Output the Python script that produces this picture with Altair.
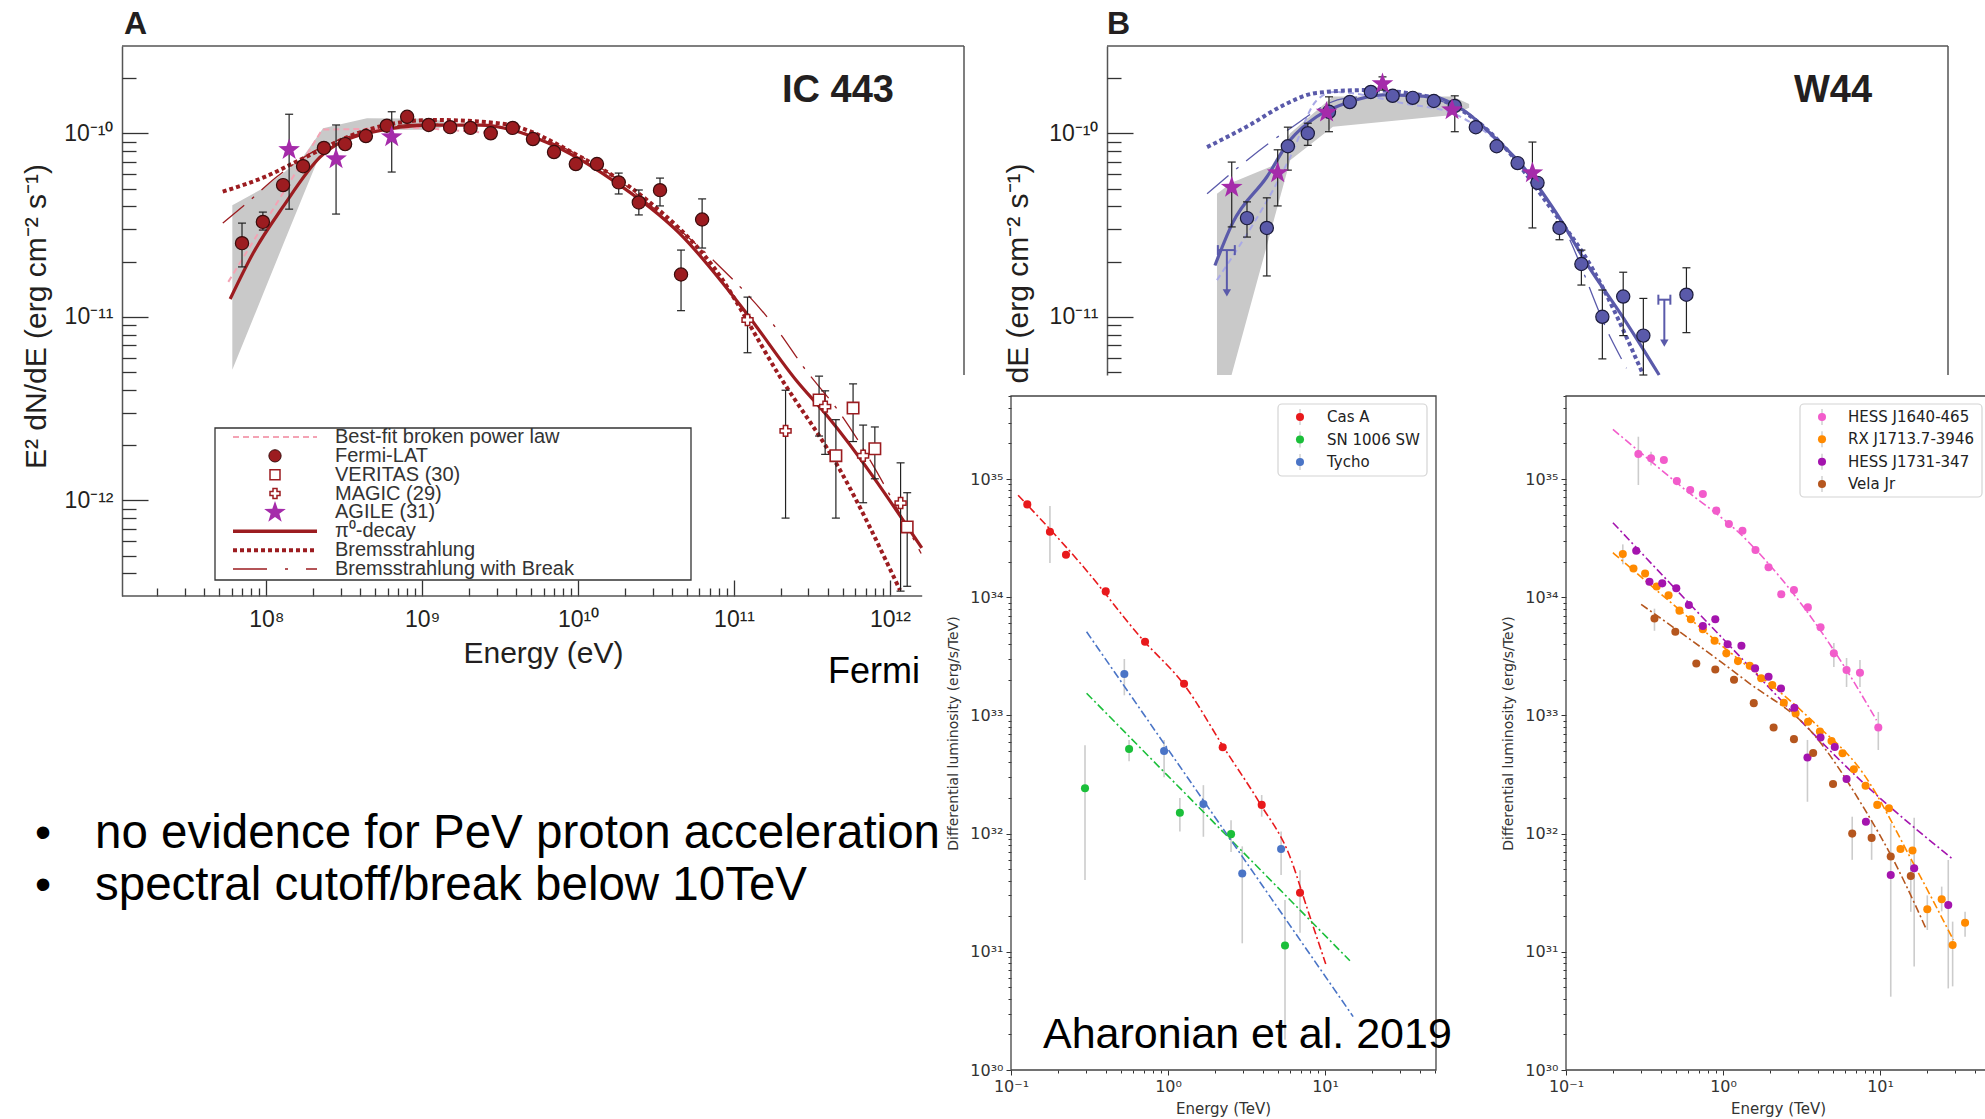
import altair as alt
import pandas as pd

W, H = 1985, 1119
ARIAL = "Liberation Sans, Arial, Helvetica, sans-serif"
MPL = "DejaVu Sans, Verdana, sans-serif"
INK = "#231f20"
STAR = "M0,-1L0.235,-0.324L0.951,-0.309L0.38,0.124L0.588,0.809L0,0.4L-0.588,0.809L-0.38,0.124L-0.951,-0.309L-0.235,-0.324Z"

# ======================= Panel A : IC 443 =======================
A_X_DOMAIN = [1.186e7, 2.985e12]
A_Y_DOMAIN = [3.01e-13, 2.99e-10]
A_X_RANGE = [122, 964]
A_Y_RANGE = [596, 46]
A_X_SHOWN = 1.61e12      # part right of this is covered by the inset figure
A_Y_SHOWN = 4.82e-12
A_X_MAJOR = [1e8, 1e9, 1e10, 1e11, 1e12]
A_X_EXP = [8, 9, 10, 11, 12]
A_X_LABELS = ["10⁸", "10⁹", "10¹⁰", "10¹¹", "10¹²"]
A_X_MINOR = [m * 10.0 ** e for e in range(7, 12) for m in range(2, 10) if m * 10.0 ** e > A_X_DOMAIN[0]]
A_Y_MAJOR = [1e-12, 1e-11, 1e-10]
A_Y_EXP = [-12, -11, -10]
A_Y_LABELS = ["10⁻¹²", "10⁻¹¹", "10⁻¹⁰"]
A_Y_MINOR = [m * 10.0 ** e for e in range(-13, -9) for m in range(2, 10)
             if A_Y_DOMAIN[0] * 1.2 < m * 10.0 ** e < A_Y_DOMAIN[1]]

A_LAT_E = [6.98e7, 9.5e7, 1.28e8, 1.72e8, 2.34e8, 3.2e8, 4.35e8, 5.93e8, 8.0e8, 1.10e9, 1.51e9, 2.04e9,
           2.75e9, 3.8e9, 5.13e9, 7.0e9, 9.66e9, 1.32e10, 1.82e10, 2.45e10, 3.35e10, 4.57e10, 6.24e10]
A_LAT_F = [2.52e-11, 3.29e-11, 5.22e-11, 6.62e-11, 8.32e-11, 8.73e-11, 9.66e-11, 1.10e-10, 1.23e-10, 1.11e-10,
           1.08e-10, 1.07e-10, 1.0e-10, 1.07e-10, 9.3e-11, 7.9e-11, 6.8e-11, 6.8e-11, 5.4e-11, 4.2e-11, 4.9e-11,
           1.70e-11, 3.39e-11]
A_LAT_ERR_E = [6.98e7, 9.5e7, 1.82e10, 2.45e10, 3.35e10, 4.57e10, 6.24e10]
A_LAT_ERR_LO = [1.87e-11, 2.97e-11, 4.67e-11, 3.59e-11, 4.02e-11, 1.08e-11, 2.37e-11]
A_LAT_ERR_HI = [3.24e-11, 3.72e-11, 6.07e-11, 4.91e-11, 5.7e-11, 2.31e-11, 4.39e-11]

A_AGILE_E = [1.40e8, 2.80e8, 6.37e8]
A_AGILE_F = [8.13e-11, 7.24e-11, 9.55e-11]
A_AGILE_LO = [3.86e-11, 3.63e-11, 6.15e-11]
A_AGILE_HI = [1.27e-10, 1.11e-10, 1.31e-10]

A_VERITAS_E = [3.51e11, 4.5e11, 5.8e11, 8.0e11, 1.29e12]
A_VERITAS_F = [3.52e-12, 1.75e-12, 3.18e-12, 1.91e-12, 7.16e-13]
A_VERITAS_LO = [2.24e-12, 8.0e-13, 2.09e-12, 1.31e-12, 3.4e-13]
A_VERITAS_HI = [4.75e-12, 2.75e-12, 4.31e-12, 2.51e-12, 1.1e-12]

A_MAGIC_E = [1.22e11, 2.14e11, 3.84e11, 6.73e11, 1.17e12]
A_MAGIC_F = [9.6e-12, 2.39e-12, 3.24e-12, 1.75e-12, 9.66e-13]
A_MAGIC_LO = [6.37e-12, 8.0e-13, 1.78e-12, 9.7e-13, 3.2e-13]
A_MAGIC_HI = [1.28e-11, 3.98e-12, 3.95e-12, 2.57e-12, 1.6e-12]

A_PI0_E = [5.86e7, 8.22e7, 1.28e8, 2.21e8, 4.42e8, 1.175e9, 2.34e9, 6.31e9, 1.66e10, 4.47e10, 1.20e11,
           2.51e11, 3.94e11, 1.60e12]
A_PI0_F = [1.25e-11, 2.22e-11, 3.98e-11, 7.41e-11, 1.0e-10, 1.109e-10, 1.109e-10, 8.91e-11, 5.56e-11, 2.85e-11,
           1.047e-11, 4.5e-12, 2.9e-12, 5.5e-13]
A_BREMS_E = [5.25e7, 1.007e8, 1.64e8, 4.41e8, 1.175e9, 3.16e9, 1.03e10, 2.75e10, 7.36e10, 1.97e11, 4.79e11, 1.16e12]
A_BREMS_F = [4.81e-11, 5.85e-11, 7.16e-11, 1.042e-10, 1.183e-10, 1.132e-10, 7.45e-11, 4.34e-11, 1.875e-11,
             4.72e-12, 1.46e-12, 3.24e-13]
A_BREAK_E = [5.25e7, 7.67e7, 1.167e8, 2.0e8, 3.98e8, 1.0e9, 2.51e9, 6.31e9, 1.585e10, 3.35e10, 7.33e10,
             1.97e11, 2.77e11, 4.79e11, 1.585e12]
A_BREAK_F = [3.24e-11, 4.24e-11, 5.79e-11, 7.94e-11, 1.0e-10, 1.122e-10, 1.096e-10, 9.12e-11, 6.03e-11,
             3.66e-11, 2.04e-11, 8.13e-12, 5.37e-12, 2.98e-12, 5.13e-13]
A_BPL_E = [5.7e7, 2.28e8, 1.0e9, 2.82e9]
A_BPL_F = [1.55e-11, 1.047e-10, 1.07e-10, 1.0e-10]
A_BAND_E = [6.05e7, 9.53e7, 1.28e8, 1.72e8, 2.31e8, 4.42e8, 1.175e9, 1.41e9]
A_BAND_LO = [5.14e-12, 1.33e-11, 2.47e-11, 4.57e-11, 8.41e-11, 1.042e-10, 1.047e-10, 1.096e-10]
A_BAND_HI = [4.06e-11, 5.01e-11, 6.05e-11, 7.46e-11, 1.064e-10, 1.208e-10, 1.202e-10, 1.148e-10]

LEG_A = ["Best-fit broken power law", "Fermi-LAT", "VERITAS (30)", "MAGIC (29)", "AGILE (31)",
         "π⁰-decay", "Bremsstrahlung", "Bremsstrahlung with Break"]

# ======================= Panel B : W44 =======================
B_X_DOMAIN = [1.186e7, 2.985e12]
B_Y_DOMAIN = [4.82e-12, 2.99e-10]     # lower part hidden behind the inset figure
B_X_RANGE = [1107, 1948]
B_Y_RANGE = [375, 46]
B_Y_MAJOR = [1e-11, 1e-10]
B_Y_EXP = [-11, -10]
B_Y_LABELS = ["10⁻¹¹", "10⁻¹⁰"]
B_Y_MINOR = [m * 10.0 ** e for e in range(-12, -9) for m in range(2, 10)
             if B_Y_DOMAIN[0] < m * 10.0 ** e < B_Y_DOMAIN[1]]

B_LAT_E = [9.4e7, 1.26e8, 1.72e8, 2.31e8, 3.16e8, 4.3e8, 5.87e8, 8.1e8, 1.09e9, 1.49e9, 2.03e9, 2.77e9,
           3.77e9, 5.14e9, 6.9e9, 9.55e9, 1.32e10, 1.8e10, 2.45e10, 3.3e10, 6.24e10]
B_LAT_F = [3.45e-11, 3.05e-11, 8.5e-11, 1.0e-10, 1.31e-10, 1.48e-10, 1.68e-10, 1.6e-10, 1.56e-10, 1.5e-10,
           1.41e-10, 1.08e-10, 8.5e-11, 6.88e-11, 5.37e-11, 3.05e-11, 1.94e-11, 1.0e-11, 1.29e-11, 7.9e-12,
           1.32e-11]
B_LAT_ERR_E = [9.4e7, 1.26e8, 1.72e8, 2.31e8, 3.16e8, 2.03e9, 9.55e9, 1.32e10, 1.8e10, 2.45e10, 3.3e10, 6.24e10]
B_LAT_ERR_LO = [2.72e-11, 1.67e-11, 6.3e-11, 8.6e-11, 1.02e-10, 1.02e-10, 2.63e-11, 1.49e-11, 5.9e-12,
                7.9e-12, 4.82e-12, 8.2e-12]
B_LAT_ERR_HI = [4.23e-11, 4.45e-11, 1.08e-10, 1.135e-10, 1.58e-10, 1.6e-10, 3.3e-11, 2.31e-11, 1.4e-11,
                1.75e-11, 1.26e-11, 1.85e-11]
B_AGILE_E = [7.5e7, 1.48e8, 3.05e8, 6.97e8, 1.95e9, 6.4e9]
B_AGILE_F = [5.07e-11, 6.08e-11, 1.3e-10, 1.86e-10, 1.34e-10, 6.08e-11]
B_AGILE_ERR_E = [7.5e7, 1.48e8, 6.97e8, 6.4e9]
B_AGILE_ERR_LO = [3.09e-11, 4.02e-11, 1.72e-10, 3.05e-11]
B_AGILE_ERR_HI = [6.97e-11, 8.13e-11, 2.03e-10, 8.96e-11]
B_UL_E = [6.98e7, 4.5e10]
B_UL_F = [2.31e-11, 1.24e-11]
B_UL_END = [1.35e-11, 7.2e-12]
B_UL_ELO = [6.11e7, 4.12e10]
B_UL_EHI = [7.85e7, 4.92e10]

B_PI0_E = [5.85e7, 7.59e7, 1.26e8, 1.78e8, 2.63e8, 4.27e8, 7.0e8, 1.46e9, 2.40e9, 3.80e9, 5.13e9, 9.12e9,
           1.48e10, 2.43e10, 4.17e10]
B_PI0_F = [1.905e-11, 3.24e-11, 5.78e-11, 9.18e-11, 1.23e-10, 1.48e-10, 1.62e-10, 1.585e-10, 1.306e-10,
           9.18e-11, 7.14e-11, 3.67e-11, 1.86e-11, 1.0e-11, 4.82e-12]
B_BREMS_E = [5.21e7, 1.0e8, 1.585e8, 2.63e8, 5.5e8, 1.0e9, 2.0e9, 3.98e9, 7.94e9, 1.585e10, 3.27e10]
B_BREMS_F = [8.41e-11, 1.122e-10, 1.413e-10, 1.66e-10, 1.72e-10, 1.66e-10, 1.413e-10, 8.91e-11, 4.17e-11,
             1.78e-11, 4.9e-12]
B_BREAK_E = [5.21e7, 1.72e8, 3.98e8, 1.0e9, 2.51e9, 5.01e9, 1.0e10, 2.04e10, 2.57e10]
B_BREAK_F = [4.68e-11, 1.042e-10, 1.55e-10, 1.62e-10, 1.26e-10, 7.08e-11, 3.16e-11, 7.64e-12, 5.25e-12]
B_BPL_E = [6.03e7, 1.78e8, 2.63e8, 3.39e8, 1.0e9, 1.95e9, 3.98e9]
B_BPL_F = [1.585e-11, 7.41e-11, 1.51e-10, 1.68e-10, 1.445e-10, 1.29e-10, 8.91e-11]
B_BAND_E = [6.03e7, 7.48e7, 1.35e8, 1.78e8, 3.35e8, 1.97e9, 2.51e9]
B_BAND_LO = [4.82e-12, 4.82e-12, 3.02e-11, 7.14e-11, 1.086e-10, 1.26e-10, 1.38e-10]
B_BAND_HI = [4.68e-11, 5.37e-11, 6.61e-11, 1.0e-10, 1.585e-10, 1.585e-10, 1.445e-10]

# ======================= Panels C, D : Aharonian et al. 2019 =======================
L_X_DOMAIN = [0.1, 50.9]
L_Y_DOMAIN = [1e30, 5.04e35]
C_X_RANGE = [1011, 1436]
D_X_RANGE = [1566, 1991]
L_Y_RANGE = [1070, 396]
L_X_MAJOR = [0.1, 1, 10]
L_X_EXP = [-1, 0, 1]
L_X_LABELS = ["10⁻¹", "10⁰", "10¹"]
L_X_MINOR = [m * 10.0 ** e for e in (-1, 0, 1) for m in range(2, 10) if m * 10.0 ** e < L_X_DOMAIN[1]]
L_Y_MAJOR = [1e30, 1e31, 1e32, 1e33, 1e34, 1e35]
L_Y_EXP = [30, 31, 32, 33, 34, 35]
L_Y_LABELS = ["10³⁰", "10³¹", "10³²", "10³³", "10³⁴", "10³⁵"]
L_Y_MINOR = [m * 10.0 ** e for e in range(30, 36) for m in range(2, 10) if m * 10.0 ** e < L_Y_DOMAIN[1]]

C_NAMES = ["Cas A", "SN 1006 SW", "Tycho"]
C_COLORS = ["#e8191c", "#1bbf3a", "#4a74c6"]
C_CAS_E = [0.127, 0.177, 0.224, 0.401, 0.714, 1.265, 2.23, 3.95, 6.93]
C_CAS_L = [6.1e34, 3.58e34, 2.29e34, 1.12e34, 4.2e33, 1.85e33, 5.37e32, 1.75e32, 3.16e31]
C_CAS_ERR_E = [0.177, 3.95, 6.93]
C_CAS_ERR_LO = [1.95e34, 1.39e32, 1.45e31]
C_CAS_ERR_HI = [5.9e34, 2.12e32, 4.9e31]
C_CAS_FIT_E = [0.111, 0.289, 0.664, 1.315, 2.25, 3.85, 5.98, 7.64, 10.1]
C_CAS_FIT_L = [7.3e34, 1.81e34, 4.63e33, 1.70e33, 5.43e32, 1.80e32, 6.38e31, 2.4e31, 7.9e30]
C_SN_E = [0.296, 0.565, 1.19, 2.52, 5.56]
C_SN_L = [2.42e32, 5.2e32, 1.5e32, 9.9e31, 1.13e31]
C_SN_LO = [4.05e31, 4.1e32, 1.04e32, 7.0e31, 1.8e30]
C_SN_HI = [5.6e32, 6.2e32, 2.0e32, 1.3e32, 2.74e31]
C_SN_FIT_E = [0.303, 14.4]
C_SN_FIT_L = [1.54e33, 8.4e30]
C_TY_E = [0.527, 0.944, 1.68, 2.97, 5.25]
C_TY_L = [2.24e33, 5.0e32, 1.78e32, 4.6e31, 7.4e31]
C_TY_LO = [1.48e33, 3.0e32, 9.4e31, 1.18e31, 4.46e31]
C_TY_HI = [3.0e33, 6.2e32, 2.57e32, 7.8e31, 1.04e32]
C_TY_FIT_E = [0.303, 15.1]
C_TY_FIT_L = [5.1e33, 2.83e30]

D_NAMES = ["HESS J1640-465", "RX J1713.7-3946", "HESS J1731-347", "Vela Jr"]
D_COLORS = ["#f25ccb", "#ff8a00", "#a414ae", "#b5561e"]
D_PK_E = [0.289, 0.348, 0.42, 0.508, 0.618, 0.744, 0.906, 1.09, 1.33, 1.61, 1.95, 2.35, 2.83, 3.47, 4.18,
          5.08, 6.12, 7.45, 9.75]
D_PK_L = [1.63e35, 1.5e35, 1.45e35, 9.6e34, 8.07e34, 7.47e34, 5.4e34, 4.16e34, 3.65e34, 2.51e34, 1.79e34,
          1.06e34, 1.15e34, 8.2e33, 5.57e33, 3.35e33, 2.42e33, 2.3e33, 7.9e32]
D_PK_ERR_E = [0.289, 0.348, 5.08, 6.12, 7.45, 9.75]
D_PK_ERR_LO = [8.9e34, 1.3e35, 2.57e33, 1.74e33, 1.74e33, 5.1e32]
D_PK_ERR_HI = [2.28e35, 1.7e35, 4.09e33, 3.06e33, 2.94e33, 1.07e33]
D_PK_FIT_E = [0.199, 0.528, 1.41, 3.75, 6.12, 9.5]
D_PK_FIT_L = [2.63e35, 8.9e34, 3.05e34, 6.4e33, 2.42e33, 9.1e32]
D_OR_E = [0.23, 0.269, 0.319, 0.378, 0.45, 0.528, 0.624, 0.744, 0.884, 1.05, 1.245, 1.48, 1.75, 2.06, 2.44,
          2.9, 3.48, 4.14, 4.91, 5.77, 6.81, 8.09, 9.6, 11.4, 13.5, 16.1, 20.0, 24.7, 29.0, 34.8]
D_OR_L = [2.32e34, 1.75e34, 1.59e34, 1.23e34, 1.04e34, 7.7e33, 6.5e33, 5.35e33, 4.29e33, 3.35e33, 2.88e33,
          2.63e33, 2.06e33, 1.81e33, 1.28e33, 1.04e33, 8.85e32, 7.3e32, 6.07e32, 4.78e32, 3.5e32, 2.54e32,
          1.75e32, 1.64e32, 7.4e31, 7.2e31, 2.29e31, 2.78e31, 1.14e31, 1.76e31]
D_OR_ERR_E = [0.23, 20.0, 24.7, 29.0, 34.8]
D_OR_ERR_LO = [1.9e34, 1.53e31, 2.2e31, 5.1e30, 1.34e31]
D_OR_ERR_HI = [2.8e34, 3.0e31, 3.56e31, 1.8e31, 2.18e31]
D_OR_FIT_E = [0.199, 0.863, 3.75, 7.8, 16.3, 29.3]
D_OR_FIT_L = [2.38e34, 4.49e33, 8.85e32, 3.24e32, 5.6e31, 1.26e31]
D_PU_E = [0.28, 0.34, 0.41, 0.504, 0.606, 0.744, 0.893, 1.07, 1.31, 1.6, 1.95, 2.34, 2.85, 3.45, 4.18, 5.15,
          6.12, 8.13, 11.7, 16.5, 27.2]
D_PU_L = [2.47e34, 1.35e34, 1.31e34, 1.19e34, 8.6e33, 5.7e33, 6.5e33, 4.0e33, 3.89e33, 2.5e33, 2.12e33,
          1.69e33, 1.16e33, 4.4e32, 6.5e32, 5.4e32, 2.9e32, 1.26e32, 4.47e31, 5.1e31, 2.49e31]
D_PU_ERR_E = [3.45, 11.7, 16.5, 27.2]
D_PU_ERR_LO = [1.86e32, 4.17e30, 7.5e30, 4.9e30]
D_PU_ERR_HI = [6.2e32, 1.22e32, 1.36e32, 5.98e31]
D_PU_FIT_E = [0.199, 0.863, 9.98, 29.0]
D_PU_FIT_L = [4.27e34, 5.46e33, 2.0e32, 6.1e31]
D_BR_E = [0.366, 0.497, 0.676, 0.893, 1.175, 1.57, 2.1, 2.83, 3.75, 5.02, 6.65, 8.84, 11.7, 15.7]
D_BR_L = [6.6e33, 5.1e33, 2.75e33, 2.45e33, 2.0e33, 1.27e33, 7.9e32, 6.3e32, 4.8e32, 2.63e32, 1.0e32,
          9.2e31, 6.4e31, 4.38e31]
D_BR_ERR_E = [0.366, 6.65, 8.84, 15.7]
D_BR_ERR_LO = [5.2e33, 6.0e31, 6.0e31, 2.18e31]
D_BR_ERR_HI = [8.0e33, 1.39e32, 1.3e32, 5.98e31]
D_BR_FIT_E = [0.301, 1.41, 3.75, 7.8, 12.8, 19.8]
D_BR_FIT_L = [8.7e33, 1.95e33, 7.0e32, 1.69e32, 5.25e31, 1.53e31]

# ======================= helpers =======================
def sup_expr(exps, labels):
    parts = [f"round(log(datum.value)/LN10) == {e} ? '{lab}'" for e, lab in zip(exps, labels)]
    return " : ".join(parts) + " : ''"


def logscale(dom, rng):
    return alt.Scale(type="log", domain=dom, range=rng, nice=False)


def xy(xs, ys, xf="x", yf="y"):
    return dict(x=alt.X(f"{xf}:Q", scale=xs, axis=None), y=alt.Y(f"{yf}:Q", scale=ys, axis=None))


def points(E, F, xs, ys, **mk):
    mk.setdefault("opacity", 1)
    return alt.Chart(pd.DataFrame({"x": E, "y": F})).mark_point(**mk).encode(**xy(xs, ys))


def curve(E, F, xs, ys, **mk):
    return alt.Chart(pd.DataFrame({"x": E, "y": F})).mark_line(**mk).encode(**xy(xs, ys))


def errbars(E, lo, hi, xs, ys, color, width=1.2, cap=0):
    base = alt.Chart(pd.DataFrame({"x": E, "lo": lo, "hi": hi}))
    out = [base.mark_rule(color=color, strokeWidth=width).encode(
        x=alt.X("x:Q", scale=xs, axis=None), y=alt.Y("lo:Q", scale=ys, axis=None), y2=alt.Y2("hi"))]
    if cap:
        for f in ("lo", "hi"):
            out.append(base.mark_tick(color=color, orient="horizontal", size=cap, thickness=width, opacity=1).encode(
                x=alt.X("x:Q", scale=xs, axis=None), y=alt.Y(f"{f}:Q", scale=ys, axis=None)))
    return out


def band(E, lo, hi, xs, ys, color):
    return alt.Chart(pd.DataFrame({"x": E, "lo": lo, "hi": hi})).mark_area(
        orient="vertical", color=color, opacity=1).encode(
        x=alt.X("x:Q", scale=xs, axis=None), y=alt.Y("lo:Q", scale=ys, axis=None), y2=alt.Y2("hi"))


def tick_axis(orient, offset, values, size, color="#333333", width=1.3):
    return alt.Axis(orient=orient, offset=offset, values=values, labels=False, domain=False, ticks=True,
                    tickSize=size, tickColor=color, tickWidth=width, grid=False, title=None)


def carrier(xs, ys, xdom, ydom, xaxis, yaxis):
    d = pd.DataFrame({"x": [xdom[0]], "y": [ydom[0]]})
    return alt.Chart(d).mark_point(opacity=0).encode(
        x=alt.X("x:Q", scale=xs, axis=xaxis), y=alt.Y("y:Q", scale=ys, axis=yaxis))


def text(s, x, y, size, align="left", weight="normal", font=ARIAL, color="black", baseline="alphabetic"):
    return alt.Chart(pd.DataFrame({"t": [s]})).mark_text(
        align=align, baseline=baseline, fontSize=size, fontWeight=weight, font=font, color=color).encode(
        x=alt.value(x), y=alt.value(y), text="t:N")


RED = "#9c1c20"
RED_EDGE = "#3a0d0d"
PINK = "#f4a3b4"
AGILE = "#a52baa"
BLUE = "#5a5aaa"
BLUE_EDGE = "#1c1c3c"
LAV = "#a9a9e6"
GREY = "#c9c9c9"
ERR = "#222222"
STAR_SIZE = 520

# ======================= Panel A =======================
AXS = logscale(A_X_DOMAIN, A_X_RANGE)
AYS = logscale(A_Y_DOMAIN, A_Y_RANGE)

a_y_lab = alt.Axis(orient="left", offset=-A_X_RANGE[0], values=A_Y_MAJOR, labelExpr=sup_expr(A_Y_EXP, A_Y_LABELS),
                   ticks=False, tickSize=0, domain=True, domainColor="#555555", domainWidth=1.5, grid=False,
                   labelFlush=False, labelFont=ARIAL, labelFontSize=23, labelColor=INK, labelPadding=9,
                   title="E² dN/dE (erg cm⁻² s⁻¹)", titleFont=ARIAL, titleFontSize=30, titleFontWeight="normal",
                   titleColor=INK, titleAngle=270, titleX=-77, titleY=316, titleAlign="center",
                   titleBaseline="alphabetic")
a_x_lab = alt.Axis(orient="bottom", offset=-(H - A_Y_RANGE[0]), values=A_X_MAJOR,
                   labelExpr=sup_expr(A_X_EXP, A_X_LABELS), ticks=False, tickSize=0, domain=False, grid=False,
                   labelFlush=False, labelFont=ARIAL, labelFontSize=23, labelColor=INK, labelPadding=12,
                   title="Energy (eV)", titleFont=ARIAL, titleFontSize=30, titleFontWeight="normal",
                   titleColor=INK, titleX=543, titleY=66, titleAlign="center", titleBaseline="alphabetic")

A_FRAME = pd.DataFrame({
    "x": [A_X_DOMAIN[0], A_X_DOMAIN[1], A_X_DOMAIN[0]],
    "x2": [A_X_DOMAIN[1], A_X_DOMAIN[1], A_X_SHOWN],
    "y": [A_Y_DOMAIN[1], A_Y_DOMAIN[1], A_Y_DOMAIN[0]],
    "y2": [A_Y_DOMAIN[1], A_Y_SHOWN, A_Y_DOMAIN[0]],
})
a_frame = alt.Chart(A_FRAME).mark_rule(color="#555555", strokeWidth=1.5).encode(
    x=alt.X("x:Q", scale=AXS, axis=None), x2=alt.X2("x2"),
    y=alt.Y("y:Q", scale=AYS, axis=None), y2=alt.Y2("y2"))

panelA = alt.layer(
    band(A_BAND_E, A_BAND_LO, A_BAND_HI, AXS, AYS, GREY),
    a_frame,
    carrier(AXS, AYS, A_X_DOMAIN, A_Y_DOMAIN, a_x_lab, a_y_lab),
    carrier(AXS, AYS, A_X_DOMAIN, A_Y_DOMAIN, tick_axis("top", -A_Y_RANGE[0], A_X_MAJOR, 16),
            tick_axis("right", -(W - A_X_RANGE[0]), A_Y_MAJOR, 26)),
    carrier(AXS, AYS, A_X_DOMAIN, A_Y_DOMAIN, tick_axis("top", -A_Y_RANGE[0], A_X_MINOR, 8),
            tick_axis("right", -(W - A_X_RANGE[0]), A_Y_MINOR, 14)),
    curve(A_BPL_E, A_BPL_F, AXS, AYS, color=PINK, strokeWidth=2, strokeDash=[6, 4]),
    curve(A_BREAK_E, A_BREAK_F, AXS, AYS, color=RED, strokeWidth=1.3, strokeDash=[28, 10, 3, 10],
          interpolate="monotone"),
    curve(A_BREMS_E, A_BREMS_F, AXS, AYS, color=RED, strokeWidth=4, strokeDash=[4, 3], interpolate="monotone"),
    curve(A_PI0_E, A_PI0_F, AXS, AYS, color=RED, strokeWidth=3.2, interpolate="monotone"),
    *errbars(A_LAT_ERR_E, A_LAT_ERR_LO, A_LAT_ERR_HI, AXS, AYS, ERR, cap=8),
    *errbars(A_AGILE_E, A_AGILE_LO, A_AGILE_HI, AXS, AYS, ERR, cap=8),
    *errbars(A_VERITAS_E, A_VERITAS_LO, A_VERITAS_HI, AXS, AYS, ERR, cap=8),
    *errbars(A_MAGIC_E, A_MAGIC_LO, A_MAGIC_HI, AXS, AYS, ERR, cap=8),
    points(A_LAT_E, A_LAT_F, AXS, AYS, shape="circle", size=175, filled=True, fill=RED, stroke=RED_EDGE,
           strokeWidth=1.2),
    points(A_VERITAS_E, A_VERITAS_F, AXS, AYS, shape="square", size=130, filled=True, fill="white", stroke=RED,
           strokeWidth=1.6),
    points(A_MAGIC_E, A_MAGIC_F, AXS, AYS, shape="cross", size=120, filled=True, fill="white", stroke=RED,
           strokeWidth=1.5),
    points(A_AGILE_E, A_AGILE_F, AXS, AYS, shape=STAR, size=STAR_SIZE, filled=True, fill=AGILE, strokeWidth=0),
).resolve_axis(x="independent", y="independent")

# legend of panel A
LY = alt.Scale(type="point", domain=LEG_A, range=[437, 569], padding=0)
leg_df = pd.DataFrame({"label": LEG_A})


def leg_y():
    return alt.Y("label:N", scale=LY, axis=None)


def leg_row(i):
    return alt.Chart(pd.DataFrame({"label": [LEG_A[i]]}))


legendA = alt.layer(
    alt.Chart(pd.DataFrame({"a": [0]})).mark_rect(fill="white", stroke="#333333", strokeWidth=1.3).encode(
        x=alt.value(215), x2=alt.value(691), y=alt.value(428), y2=alt.value(580)),
    leg_row(0).mark_rule(color=PINK, strokeWidth=2, strokeDash=[6, 4]).encode(
        x=alt.value(233), x2=alt.value(317), y=leg_y()),
    leg_row(1).mark_point(shape="circle", size=150, filled=True, fill=RED, stroke=RED_EDGE, strokeWidth=1,
                          opacity=1).encode(x=alt.value(275), y=leg_y()),
    leg_row(2).mark_point(shape="square", size=100, filled=True, fill="white", stroke=RED, strokeWidth=1.5,
                          opacity=1).encode(x=alt.value(275), y=leg_y()),
    leg_row(3).mark_point(shape="cross", size=100, filled=True, fill="white", stroke=RED, strokeWidth=1.5,
                          opacity=1).encode(x=alt.value(275), y=leg_y()),
    leg_row(4).mark_point(shape=STAR, size=STAR_SIZE, filled=True, fill=AGILE, strokeWidth=0, opacity=1).encode(
        x=alt.value(275), y=leg_y()),
    leg_row(5).mark_rule(color=RED, strokeWidth=3.5).encode(x=alt.value(233), x2=alt.value(317), y=leg_y()),
    leg_row(6).mark_rule(color=RED, strokeWidth=4, strokeDash=[4, 3]).encode(
        x=alt.value(233), x2=alt.value(317), y=leg_y()),
    leg_row(7).mark_rule(color=RED, strokeWidth=1.3, strokeDash=[34, 18, 3, 18]).encode(
        x=alt.value(233), x2=alt.value(317), y=leg_y()),
    alt.Chart(leg_df).mark_text(align="left", baseline="middle", font=ARIAL, fontSize=20, color="#333333").encode(
        x=alt.value(335), y=leg_y(), text="label:N"),
)

# ======================= Panel B =======================
BXS = logscale(B_X_DOMAIN, B_X_RANGE)
BYS = logscale(B_Y_DOMAIN, B_Y_RANGE)
b_y_lab = alt.Axis(orient="left", offset=-B_X_RANGE[0], values=B_Y_MAJOR, labelExpr=sup_expr(B_Y_EXP, B_Y_LABELS),
                   ticks=False, tickSize=0, domain=True, domainColor="#555555", domainWidth=1.5, grid=False,
                   labelFlush=False, labelFont=ARIAL, labelFontSize=23, labelColor=INK, labelPadding=9,
                   title="dE (erg cm⁻² s⁻¹)", titleFont=ARIAL, titleFontSize=30, titleFontWeight="normal",
                   titleColor=INK, titleAngle=270, titleX=-80, titleY=163, titleAlign="right",
                   titleBaseline="alphabetic")
B_FRAME = pd.DataFrame({
    "x": [B_X_DOMAIN[0], B_X_DOMAIN[1]],
    "x2": [B_X_DOMAIN[1], B_X_DOMAIN[1]],
    "y": [B_Y_DOMAIN[1], B_Y_DOMAIN[1]],
    "y2": [B_Y_DOMAIN[1], B_Y_DOMAIN[0]],
})
b_frame = alt.Chart(B_FRAME).mark_rule(color="#555555", strokeWidth=1.5).encode(
    x=alt.X("x:Q", scale=BXS, axis=None), x2=alt.X2("x2"),
    y=alt.Y("y:Q", scale=BYS, axis=None), y2=alt.Y2("y2"))
ul = alt.Chart(pd.DataFrame({"x": B_UL_E, "y": B_UL_F, "yend": B_UL_END, "xlo": B_UL_ELO, "xhi": B_UL_EHI}))

panelB = alt.layer(
    band(B_BAND_E, B_BAND_LO, B_BAND_HI, BXS, BYS, GREY),
    b_frame,
    carrier(BXS, BYS, B_X_DOMAIN, B_Y_DOMAIN, None, b_y_lab),
    carrier(BXS, BYS, B_X_DOMAIN, B_Y_DOMAIN, None, tick_axis("right", -(W - B_X_RANGE[0]), B_Y_MAJOR, 26)),
    carrier(BXS, BYS, B_X_DOMAIN, B_Y_DOMAIN, None, tick_axis("right", -(W - B_X_RANGE[0]), B_Y_MINOR, 14)),
    curve(B_BPL_E, B_BPL_F, BXS, BYS, color=LAV, strokeWidth=2, strokeDash=[6, 4], interpolate="monotone"),
    curve(B_BREAK_E, B_BREAK_F, BXS, BYS, color=BLUE, strokeWidth=1.3, strokeDash=[28, 10, 3, 10],
          interpolate="monotone"),
    curve(B_BREMS_E, B_BREMS_F, BXS, BYS, color=BLUE, strokeWidth=4, strokeDash=[4, 3], interpolate="monotone"),
    curve(B_PI0_E, B_PI0_F, BXS, BYS, color=BLUE, strokeWidth=3.2, interpolate="monotone"),
    *errbars(B_LAT_ERR_E, B_LAT_ERR_LO, B_LAT_ERR_HI, BXS, BYS, ERR, cap=8),
    *errbars(B_AGILE_ERR_E, B_AGILE_ERR_LO, B_AGILE_ERR_HI, BXS, BYS, ERR, cap=8),
    ul.mark_rule(color=BLUE, strokeWidth=2).encode(
        x=alt.X("xlo:Q", scale=BXS, axis=None), x2=alt.X2("xhi"), y=alt.Y("y:Q", scale=BYS, axis=None)),
    ul.mark_rule(color=BLUE, strokeWidth=2).encode(
        x=alt.X("x:Q", scale=BXS, axis=None), y=alt.Y("y:Q", scale=BYS, axis=None), y2=alt.Y2("yend")),
    ul.mark_tick(color=BLUE, orient="vertical", size=10, thickness=2, opacity=1).encode(
        x=alt.X("xlo:Q", scale=BXS, axis=None), y=alt.Y("y:Q", scale=BYS, axis=None)),
    ul.mark_tick(color=BLUE, orient="vertical", size=10, thickness=2, opacity=1).encode(
        x=alt.X("xhi:Q", scale=BXS, axis=None), y=alt.Y("y:Q", scale=BYS, axis=None)),
    ul.mark_point(shape="triangle-down", size=70, filled=True, color=BLUE, opacity=1).encode(
        x=alt.X("x:Q", scale=BXS, axis=None), y=alt.Y("yend:Q", scale=BYS, axis=None)),
    points(B_LAT_E, B_LAT_F, BXS, BYS, shape="circle", size=175, filled=True, fill=BLUE, stroke=BLUE_EDGE,
           strokeWidth=1.2),
    points(B_AGILE_E, B_AGILE_F, BXS, BYS, shape=STAR, size=STAR_SIZE, filled=True, fill=AGILE, strokeWidth=0),
).resolve_axis(x="independent", y="independent")


# ======================= Panels C and D =======================
def lum_panel(x_range, series, legend_names, legend_colors, legend_box, legend_rows, marker_x, text_x):
    xs = logscale(L_X_DOMAIN, x_range)
    ys = logscale(L_Y_DOMAIN, L_Y_RANGE)
    x0 = x_range[0]
    x_lab = alt.Axis(orient="bottom", offset=-(H - L_Y_RANGE[0]), values=L_X_MAJOR,
                     labelExpr=sup_expr(L_X_EXP, L_X_LABELS), ticks=True, tickSize=5, tickColor="#333333",
                     tickWidth=1, domain=False, grid=False, labelFlush=False, labelFont=MPL, labelFontSize=16,
                     labelColor="#333333", labelPadding=3, title="Energy (TeV)", titleFont=MPL, titleFontSize=15,
                     titleFontWeight="normal", titleColor="#333333", titleX=x0 + 212,
                     titleY=43, titleAlign="center", titleBaseline="alphabetic")
    y_lab = alt.Axis(orient="left", offset=-x0, values=L_Y_MAJOR, labelExpr=sup_expr(L_Y_EXP, L_Y_LABELS),
                     ticks=True, tickSize=5, tickColor="#333333", tickWidth=1, domain=False, grid=False,
                     labelFlush=False, labelFont=MPL, labelFontSize=16, labelColor="#333333", labelPadding=3,
                     title="Differential luminosity (erg/s/TeV)", titleFont=MPL, titleFontSize=14,
                     titleFontWeight="normal", titleColor="#333333", titleAngle=270, titleX=-54,
                     titleY=(L_Y_RANGE[0] + L_Y_RANGE[1]) / 2, titleAlign="center", titleBaseline="alphabetic")
    frame = alt.Chart(pd.DataFrame({"x": [L_X_DOMAIN[0]], "x2": [L_X_DOMAIN[1]], "y": [L_Y_DOMAIN[0]],
                                    "y2": [L_Y_DOMAIN[1]]})).mark_rect(
        fillOpacity=0, stroke="#444444", strokeWidth=1.3).encode(
        x=alt.X("x:Q", scale=xs, axis=None), x2=alt.X2("x2"), y=alt.Y("y:Q", scale=ys, axis=None),
        y2=alt.Y2("y2"))
    layers = [
        frame,
        carrier(xs, ys, L_X_DOMAIN, L_Y_DOMAIN, x_lab, y_lab),
        carrier(xs, ys, L_X_DOMAIN, L_Y_DOMAIN,
                tick_axis("bottom", -(H - L_Y_RANGE[0]), L_X_MINOR, 3, width=1),
                tick_axis("left", -x0, L_Y_MINOR, 3, width=1)),
    ]
    for s in series:
        layers += errbars(s["err_e"], s["err_lo"], s["err_hi"], xs, ys, "#cccccc", width=1.6)
    for s in series:
        layers.append(curve(s["fit_e"], s["fit_l"], xs, ys, color=s["color"], strokeWidth=1.6,
                            strokeDash=[8, 3, 2, 3], interpolate="monotone"))
    for s in series:
        layers.append(points(s["e"], s["l"], xs, ys, shape="circle", size=65, filled=True, color=s["color"],
                             strokeWidth=0))
    panel = alt.layer(*layers).resolve_axis(x="independent", y="independent")

    ly = alt.Scale(type="point", domain=legend_names, range=legend_rows, padding=0)
    cs = alt.Scale(domain=legend_names, range=legend_colors)
    ldf = pd.DataFrame({"name": legend_names})
    bx0, bx1, by0, by1 = legend_box
    legend = alt.layer(
        alt.Chart(pd.DataFrame({"a": [0]})).mark_rect(fill="white", stroke="#d4d4d4", strokeWidth=1.2,
                                                      cornerRadius=4).encode(
            x=alt.value(bx0), x2=alt.value(bx1), y=alt.value(by0), y2=alt.value(by1)),
        alt.Chart(ldf).mark_tick(orient="vertical", size=16, thickness=1.5, color="#d0d0d0", opacity=1).encode(
            x=alt.value(marker_x), y=alt.Y("name:N", scale=ly, axis=None)),
        alt.Chart(ldf).mark_point(shape="circle", size=65, filled=True, opacity=1).encode(
            x=alt.value(marker_x), y=alt.Y("name:N", scale=ly, axis=None),
            color=alt.Color("name:N", scale=cs, legend=None)),
        alt.Chart(ldf).mark_text(align="left", baseline="middle", font=MPL, fontSize=15, color="#222222").encode(
            x=alt.value(text_x), y=alt.Y("name:N", scale=ly, axis=None), text="name:N"),
    ).resolve_scale(color="independent")
    return panel, legend


C_SERIES = [
    dict(e=C_CAS_E, l=C_CAS_L, err_e=C_CAS_ERR_E, err_lo=C_CAS_ERR_LO, err_hi=C_CAS_ERR_HI,
         fit_e=C_CAS_FIT_E, fit_l=C_CAS_FIT_L, color=C_COLORS[0]),
    dict(e=C_SN_E, l=C_SN_L, err_e=C_SN_E, err_lo=C_SN_LO, err_hi=C_SN_HI,
         fit_e=C_SN_FIT_E, fit_l=C_SN_FIT_L, color=C_COLORS[1]),
    dict(e=C_TY_E, l=C_TY_L, err_e=C_TY_E, err_lo=C_TY_LO, err_hi=C_TY_HI,
         fit_e=C_TY_FIT_E, fit_l=C_TY_FIT_L, color=C_COLORS[2]),
]
D_SERIES = [
    dict(e=D_PK_E, l=D_PK_L, err_e=D_PK_ERR_E, err_lo=D_PK_ERR_LO, err_hi=D_PK_ERR_HI,
         fit_e=D_PK_FIT_E, fit_l=D_PK_FIT_L, color=D_COLORS[0]),
    dict(e=D_OR_E, l=D_OR_L, err_e=D_OR_ERR_E, err_lo=D_OR_ERR_LO, err_hi=D_OR_ERR_HI,
         fit_e=D_OR_FIT_E, fit_l=D_OR_FIT_L, color=D_COLORS[1]),
    dict(e=D_PU_E, l=D_PU_L, err_e=D_PU_ERR_E, err_lo=D_PU_ERR_LO, err_hi=D_PU_ERR_HI,
         fit_e=D_PU_FIT_E, fit_l=D_PU_FIT_L, color=D_COLORS[2]),
    dict(e=D_BR_E, l=D_BR_L, err_e=D_BR_ERR_E, err_lo=D_BR_ERR_LO, err_hi=D_BR_ERR_HI,
         fit_e=D_BR_FIT_E, fit_l=D_BR_FIT_L, color=D_COLORS[3]),
]

panelC, legendC = lum_panel(C_X_RANGE, C_SERIES, C_NAMES, C_COLORS, (1278, 1427, 404, 476), [417, 462], 1300, 1327)
panelD, legendD = lum_panel(D_X_RANGE, D_SERIES, D_NAMES, D_COLORS, (1800, 1982, 404, 497), [417, 484], 1822, 1848)

# ======================= slide texts =======================
texts = [
    text("A", 124, 34, 32, weight="bold", color=INK),
    text("B", 1107, 34, 32, weight="bold", color=INK),
    text("IC 443", 782, 102, 38, weight="bold", color=INK),
    text("W44", 1794, 102, 38, weight="bold", color=INK),
    text("Fermi", 920, 683, 36, align="right"),
    text("Aharonian et al. 2019", 1043, 1048, 43),
    text("•", 43, 848, 46, align="center"),
    text("•", 43, 900, 46, align="center"),
    text("no evidence for PeV proton acceleration", 95, 848, 47.5),
    text("spectral cutoff/break below 10TeV", 95, 900, 47.5),
]

chart = alt.layer(
    panelA, legendA, panelB, panelC, legendC, panelD, legendD, *texts
).resolve_scale(
    x="independent", y="independent", color="independent"
).properties(
    width=W, height=H, padding=0, autosize=alt.AutoSizeParams(type="none"), background="white"
).configure_view(stroke=None)

chart.save("out.html", embed_options={"renderer": "svg", "actions": False})
